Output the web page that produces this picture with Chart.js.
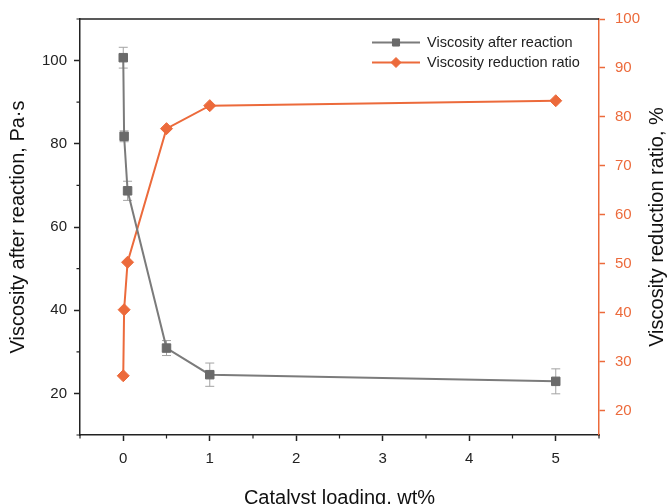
<!DOCTYPE html>
<html lang="en">
<head>
<meta charset="UTF-8">
<title>Catalyst loading vs viscosity</title>
<script src="https://cdn.jsdelivr.net/npm/chart.js"></script>
<style>
  body { margin: 0; background: #fff; }
  .chart-wrap { width: 667px; height: 504px; }
</style>
</head>
<body>
<div class="chart-wrap"><canvas id="viscChart"></canvas></div>
<script>
// Catalyst loading, wt%
const loading = [0, 0.01, 0.05, 0.5, 1, 5];
// Viscosity after reaction, Pa·s, and error bar half-widths
const viscosity = [100.7, 81.8, 68.7, 30.9, 24.5, 22.9];
const viscosityErr = [2.5, 1.3, 2.3, 1.8, 2.8, 3.0];
// Viscosity reduction ratio, %
const reduction = [27.1, 40.6, 50.3, 77.6, 82.3, 83.3];

// Axis ticks
const xTicks = [0, 1, 2, 3, 4, 5];
const xMinor = [-0.5, 0.5, 1.5, 2.5, 3.5, 4.5, 5.5];
const leftTicks = [20, 40, 60, 80, 100];
const leftMinor = [10, 30, 50, 70, 90, 110];
const rightTicks = [20, 30, 40, 50, 60, 70, 80, 90, 100];
const rightTitle = 'Viscosity reduction ratio, %';

const GRAY_LINE = '#7b7b7b';
const GRAY_MARK = '#6a6a6a';
const ORANGE = '#ec6a3b';
const AXIS = '#222';
const FONT = "'Liberation Sans', Arial, sans-serif";

Chart.defaults.font.family = FONT;

// Error bars, top frame line, minor ticks, right title and the in-plot legend
const decorations = {
    id: 'decorations',
    beforeDatasetsDraw(chart) {
        const ctx = chart.ctx;
        const xs = chart.scales.x, ys = chart.scales.y;
        ctx.save();
        ctx.strokeStyle = '#a3a3a3';
        ctx.lineWidth = 1;
        loading.forEach((x, i) => {
            const px = xs.getPixelForValue(x);
            const top = ys.getPixelForValue(viscosity[i] + viscosityErr[i]);
            const bot = ys.getPixelForValue(viscosity[i] - viscosityErr[i]);
            ctx.beginPath();
            ctx.moveTo(px, top); ctx.lineTo(px, bot);
            ctx.moveTo(px - 4.5, top); ctx.lineTo(px + 4.5, top);
            ctx.moveTo(px - 4.5, bot); ctx.lineTo(px + 4.5, bot);
            ctx.stroke();
        });
        ctx.restore();
    },
    afterDraw(chart) {
        const ctx = chart.ctx;
        const area = chart.chartArea;
        const xs = chart.scales.x, ys = chart.scales.y;
        ctx.save();
        ctx.strokeStyle = AXIS;
        ctx.lineWidth = 1.5;
        ctx.beginPath();
        ctx.moveTo(area.left, area.top);
        ctx.lineTo(area.right, area.top);
        ctx.stroke();

        ctx.lineWidth = 1.2;
        ctx.beginPath();
        xMinor.forEach(v => {
            const px = xs.getPixelForValue(v);
            ctx.moveTo(px, area.bottom); ctx.lineTo(px, area.bottom + 3.5);
        });
        leftMinor.forEach(v => {
            const py = ys.getPixelForValue(v);
            ctx.moveTo(area.left, py); ctx.lineTo(area.left - 3.5, py);
        });
        ctx.stroke();

        // right axis title, read bottom to top
        ctx.save();
        ctx.translate(657, (area.top + area.bottom) / 2);
        ctx.rotate(-Math.PI / 2);
        ctx.font = '20px ' + FONT;
        ctx.fillStyle = '#111';
        ctx.textAlign = 'center';
        ctx.textBaseline = 'middle';
        ctx.fillText(rightTitle, 0, 0);
        ctx.restore();

        // legend
        const rows = [42.5, 62.5];
        ctx.font = '14.5px ' + FONT;
        ctx.textBaseline = 'middle';
        ctx.textAlign = 'left';
        chart.data.datasets.forEach((ds, i) => {
            const y = rows[i];
            ctx.strokeStyle = ds.borderColor;
            ctx.lineWidth = 2;
            ctx.beginPath();
            ctx.moveTo(372, y); ctx.lineTo(420, y);
            ctx.stroke();
            ctx.fillStyle = ds.pointBackgroundColor;
            ctx.strokeStyle = ds.pointBorderColor;
            ctx.lineWidth = 1;
            Chart.helpers.drawPoint(ctx, {
                pointStyle: ds.pointStyle,
                radius: ds.pointRadius - 1,
                rotation: 0,
                borderWidth: 1
            }, 396, y);
            ctx.fillStyle = AXIS;
            ctx.fillText(ds.label, 427, y);
        });
        ctx.restore();
    }
};

new Chart(document.getElementById('viscChart'), {
    type: 'scatter',
    data: {
        datasets: [
            {
                label: 'Viscosity after reaction',
                data: loading.map((x, i) => ({ x: x, y: viscosity[i] })),
                yAxisID: 'y',
                showLine: true,
                borderColor: GRAY_LINE,
                borderWidth: 2,
                pointStyle: 'rect',
                pointRadius: 6,
                pointBackgroundColor: GRAY_MARK,
                pointBorderColor: GRAY_MARK,
                pointBorderWidth: 1
            },
            {
                label: 'Viscosity reduction ratio',
                data: loading.map((x, i) => ({ x: x, y: reduction[i] })),
                yAxisID: 'y2',
                showLine: true,
                borderColor: ORANGE,
                borderWidth: 2,
                pointStyle: 'rectRot',
                pointRadius: 6,
                pointBackgroundColor: ORANGE,
                pointBorderColor: ORANGE,
                pointBorderWidth: 1
            }
        ]
    },
    options: {
        responsive: true,
        maintainAspectRatio: false,
        animation: false,
        layout: { padding: { top: 17, left: 0, right: 0, bottom: 0 } },
        plugins: {
            legend: { display: false },
            tooltip: { enabled: false }
        },
        scales: {
            x: {
                type: 'linear',
                min: -0.5,
                max: 5.5,
                afterBuildTicks: s => { s.ticks = xTicks.map(v => ({ value: v })); },
                afterFit: s => { s.height = 69; },
                grid: { display: true, drawOnChartArea: false, drawTicks: true, tickLength: 6, tickColor: AXIS, tickWidth: 1.5 },
                border: { display: true, color: AXIS, width: 1.5 },
                ticks: { color: AXIS, font: { size: 15 }, padding: 9 },
                title: {
                    display: true,
                    text: 'Catalyst loading, wt%',
                    color: '#111',
                    font: { size: 20 },
                    padding: { top: 0, bottom: -6 }
                }
            },
            y: {
                position: 'left',
                min: 10,
                max: 110,
                afterBuildTicks: s => { s.ticks = leftTicks.map(v => ({ value: v })); },
                afterFit: s => { s.width = 80; },
                grid: { display: true, drawOnChartArea: false, drawTicks: true, tickLength: 6, tickColor: AXIS, tickWidth: 1.5 },
                border: { display: true, color: AXIS, width: 1.5 },
                ticks: { color: AXIS, font: { size: 15 }, padding: 7 },
                title: {
                    display: true,
                    text: 'Viscosity after reaction, Pa·s',
                    color: '#111',
                    font: { size: 20 },
                    padding: { top: 6, bottom: 0 }
                }
            },
            y2: {
                position: 'right',
                min: 15,
                max: 100,
                afterBuildTicks: s => { s.ticks = rightTicks.map(v => ({ value: v })); },
                afterFit: s => { s.width = 68; },
                grid: { display: true, drawOnChartArea: false, drawTicks: true, tickLength: 6, tickColor: ORANGE, tickWidth: 1.5 },
                border: { display: true, color: ORANGE, width: 1.5 },
                ticks: { color: ORANGE, font: { size: 15 }, padding: 10 },
                title: { display: false }
            }
        }
    },
    plugins: [decorations]
});
</script>
</body>
</html>
